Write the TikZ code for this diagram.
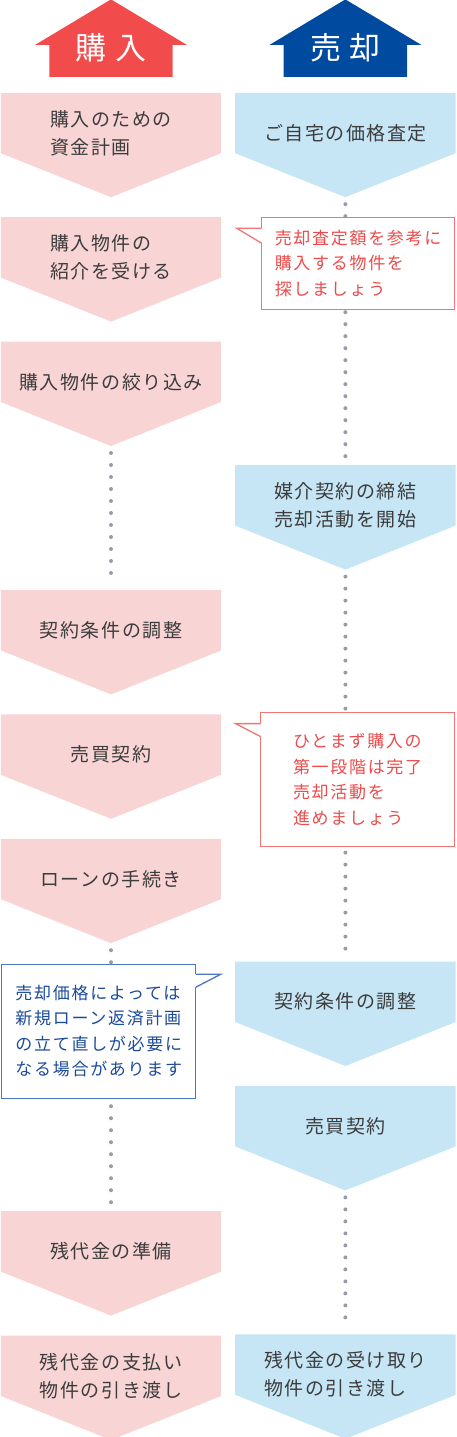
\documentclass[tikz,border=0pt]{standalone}
\usepackage{fontspec}
\setmainfont{Noto Sans CJK JP}
\usetikzlibrary{positioning, backgrounds, calc}
\definecolor{buyhead}{RGB}{242,75,75}
\definecolor{sellhead}{RGB}{0,74,160}
\definecolor{buyfill}{RGB}{249,212,213}
\definecolor{sellfill}{RGB}{198,230,246}
\definecolor{noteline}{RGB}{242,116,116}
\definecolor{notetext}{RGB}{236,75,75}
\definecolor{bluenoteline}{RGB}{74,119,191}
\definecolor{bluenotetext}{RGB}{28,75,156}
\definecolor{dotcolor}{RGB}{154,154,170}
\definecolor{steptext}{RGB}{60,60,60}
\newcommand{\stepfont}{\fontsize{19}{28}\selectfont\addfontfeature{LetterSpace=8}}
\newcommand{\notefont}{\fontsize{17}{25.5}\selectfont\addfontfeature{LetterSpace=10}}
\newcommand{\headfont}{\fontsize{31}{31}\selectfont}
\tikzset{
    stepbox/.style={rectangle, minimum width=220pt, minimum height=80pt,
        inner sep=0pt, align=left, text=steptext, font=\stepfont},
    headbox/.style={rectangle, minimum width=123pt, minimum height=58pt,
        inner sep=0pt, text=white, font=\headfont},
    notebox/.style={rectangle, draw=noteline, fill=white, line width=1.3pt,
        outer sep=0pt, inner sep=0pt, align=left, text=notetext, font=\notefont},
    dotline/.style={draw=dotcolor, line width=4pt, line cap=round,
        dash pattern=on 0pt off 12pt, shorten <=31pt, shorten >=9pt}
}

\begin{document}
\begin{tikzpicture}[x=1pt, y=1pt, node distance=44pt and 14pt]

    \useasboundingbox (0,0) rectangle (456,-1437);

    % purchase column
    \node[stepbox] (b1) at (111,-133) {購入のための\\資金計画};
    \node[stepbox, below=of b1] (b2) {購入物件の\\紹介を受ける};
    \node[stepbox, below=of b2] (b3) {購入物件の絞り込み};
    \node[stepbox, below=168pt of b3] (b4) {契約条件の調整};
    \node[stepbox, below=of b4] (b5) {売買契約};
    \node[stepbox, below=of b5] (b6) {ローンの手続き};
    \node[stepbox, below=292pt of b6] (b7) {残代金の準備};
    \node[stepbox, below=of b7] (b8) {残代金の支払い\\物件の引き渡し};

    % sale column
    \node[stepbox, right=of b1] (s1) {ご自宅の価格査定};
    \node[stepbox, below=292pt of s1] (s2) {媒介契約の締結\\売却活動を開始};
    \node[stepbox, below=416pt of s2] (s3) {契約条件の調整};
    \node[stepbox, below=of s3] (s4) {売買契約};
    \node[stepbox, below=168pt of s4] (s5) {残代金の受け取り\\物件の引き渡し};

    \node[headbox, above=16pt of b1] (h1) {購\hspace{10pt}入};
    \node[headbox, above=16pt of s1] (h2) {売\hspace{8pt}却};

    \draw[dotline] (b3.south) -- (b4.north);
    \draw[dotline] (b6.south) -- (b7.north);
    \draw[dotline] (s1.south) -- (s2.north);
    \draw[dotline] (s2.south) -- (s3.north);
    \draw[dotline] (s4.south) -- (s5.north);

    % notes
    \node[notebox, minimum width=193pt, minimum height=92pt,
        below=44pt of s1.south east, anchor=north east, xshift=-1pt] (c1)
        {売却査定額を参考に\\購入する物件を\\探しましょう};
    \node[notebox, minimum width=194pt, minimum height=134pt,
        below=167pt of s2.south east, anchor=north east, xshift=-1pt] (c2)
        {ひとまず購入の\\第一段階は完了\\売却活動を\\進めましょう};
    \node[notebox, draw=bluenoteline, text=bluenotetext, minimum width=194pt,
        minimum height=134pt, below=45pt of b6.south west, anchor=north west,
        xshift=1pt] (c3)
        {売却価格によっては\\新規ローン返済計画\\の立て直しが必要に\\なる場合があります};

    \foreach \n/\t in {c1/26, c2/24} {
        \fill[white] ([xshift=2pt, yshift=-11pt]\n.north west) -- ([yshift=-11pt]\n.north west)
            -- ([xshift=-25pt, yshift=-11pt]\n.north west) -- ([yshift=-\t pt]\n.north west)
            -- ([xshift=2pt, yshift=-\t pt]\n.north west) -- cycle;
        \draw[noteline, line width=1.3pt] ([yshift=-11pt]\n.north west)
            -- ([xshift=-25pt, yshift=-11pt]\n.north west) -- ([yshift=-\t pt]\n.north west);
    }
    \fill[white] ([xshift=-2pt, yshift=-10pt]c3.north east) -- ([yshift=-10pt]c3.north east)
        -- ([xshift=25pt, yshift=-10pt]c3.north east) -- ([yshift=-23pt]c3.north east)
        -- ([xshift=-2pt, yshift=-23pt]c3.north east) -- cycle;
    \draw[bluenoteline, line width=1.3pt] ([yshift=-10pt]c3.north east)
        -- ([xshift=25pt, yshift=-10pt]c3.north east) -- ([yshift=-23pt]c3.north east);

    \begin{scope}[on background layer]
        \foreach \n/\c in {b1/buyfill, b2/buyfill, b3/buyfill, b4/buyfill, b5/buyfill,
                b6/buyfill, b7/buyfill, b8/buyfill, s1/sellfill, s2/sellfill,
                s3/sellfill, s4/sellfill, s5/sellfill}
            \fill[\c] (\n.north west) -- (\n.north east) -- ([yshift=20pt]\n.south east)
                -- ([yshift=-24pt]\n.south) -- ([yshift=20pt]\n.south west) -- cycle;
        \foreach \n/\c in {h1/buyhead, h2/sellhead}
            \fill[\c] (\n.south west) -- (\n.south east) -- ([yshift=32pt]\n.south east)
                -- ([xshift=14pt, yshift=32pt]\n.south east) -- ([yshift=19pt]\n.north)
                -- ([xshift=-14pt, yshift=32pt]\n.south west) -- ([yshift=32pt]\n.south west)
                -- cycle;
    \end{scope}

\end{tikzpicture}
\end{document}
